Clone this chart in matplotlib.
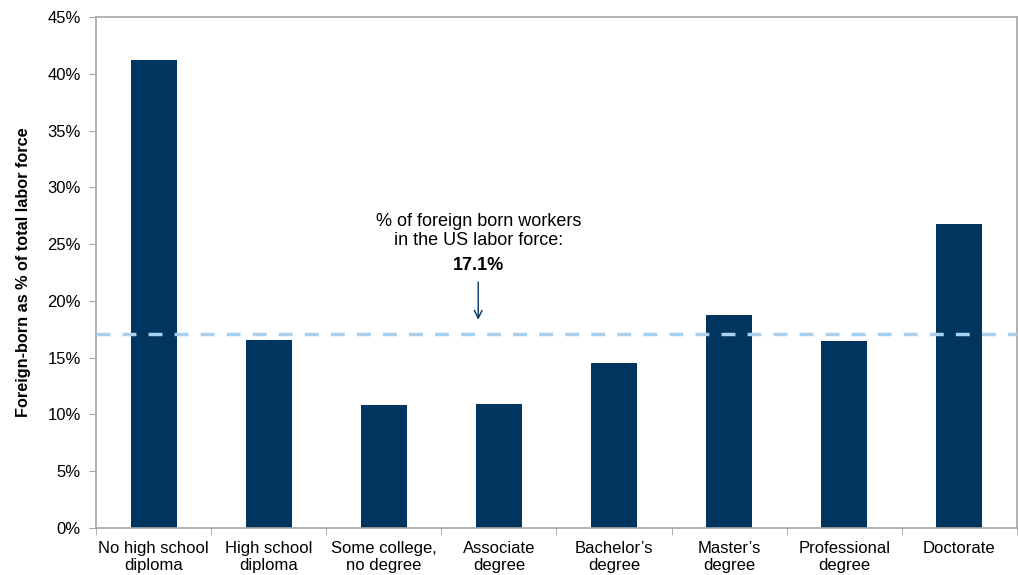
import matplotlib.pyplot as plt
import numpy as np
from matplotlib.ticker import FuncFormatter

# Foreign-born share of the US labor force by education level
categories = [
    "No high school\ndiploma",
    "High school\ndiploma",
    "Some college,\nno degree",
    "Associate\ndegree",
    "Bachelor\u2019s\ndegree",
    "Master\u2019s\ndegree",
    "Professional\ndegree",
    "Doctorate",
]
share = [41.2, 16.6, 10.8, 10.9, 14.5, 18.75, 16.5, 26.75]
overall_share = 17.1

bar_color = "#00355f"
line_color = "#a9d0ef"
axis_color = "#a6a6a6"

plt.rcParams["font.family"] = ["Liberation Sans", "DejaVu Sans"]

fig = plt.figure(figsize=(10.18, 5.75), dpi=100)
ax = fig.add_axes([0.0943, 0.0817, 0.9047, 0.8887])

x = np.arange(len(categories))
ax.bar(x, share, width=0.4, color=bar_color, zorder=2)

# overall share as a dashed reference line
ax.axhline(overall_share, color=line_color, lw=2.5, dashes=(4, 3.5), zorder=3)

ax.set_xlim(-0.5, len(categories) - 0.5)
ax.set_ylim(0, 45)
ax.set_yticks(np.arange(0, 46, 5))
ax.yaxis.set_major_formatter(FuncFormatter(lambda v, _: f"{v:.0f}%"))

ax.set_xticks(x)
ax.set_xticklabels(categories, fontsize=12, linespacing=1.2)
ax.set_xticks(np.arange(-0.5, len(categories)), minor=True)
ax.tick_params(axis="x", which="major", length=0, pad=9)
ax.tick_params(axis="x", which="minor", length=5, color=axis_color)
ax.tick_params(axis="y", length=5, color=axis_color, labelsize=12, pad=6)

for side in ["left", "right", "top", "bottom"]:
    ax.spines[side].set_color(axis_color)
    ax.spines[side].set_linewidth(1.2)

ax.set_ylabel("Foreign-born as % of total labor force", fontsize=11.7,
              fontweight="bold", labelpad=12)

# annotation pointing at the reference line
ann_x = 2.82
ax.text(ann_x, 27.7, "% of foreign born workers\nin the US labor force:",
        ha="center", va="top", fontsize=13, linespacing=1.15)
ax.text(ann_x, 23.9, f"{overall_share}%", ha="center", va="top",
        fontsize=13, fontweight="bold")
ax.annotate("", xy=(ann_x, overall_share + 1.0), xytext=(ann_x, 21.9),
            arrowprops=dict(arrowstyle="->", color=bar_color, lw=1.0,
                            mutation_scale=14))

fig.savefig("out.png", dpi=100)
